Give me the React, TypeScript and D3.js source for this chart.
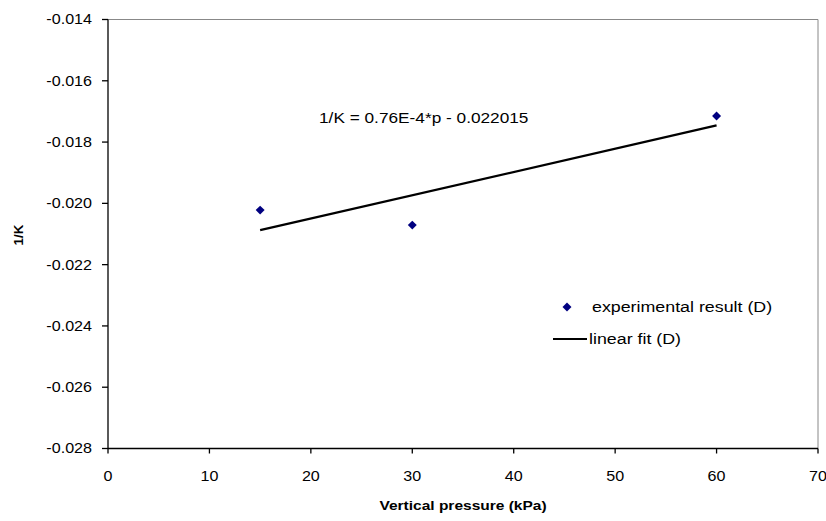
import React from "react";
import * as d3 from "d3";

const pressures = [15, 30, 60];
const invK = [-0.02022, -0.02071, -0.01715];
const fitX = [15, 60];
const slope = 0.76e-4;
const intercept = -0.022015;
const xTicks = [0, 10, 20, 30, 40, 50, 60, 70];
const yTicks = [-0.014, -0.016, -0.018, -0.02, -0.022, -0.024, -0.026, -0.028];
const equationLabel = "1/K = 0.76E-4*p - 0.022015";
const legendLabels = ["experimental result (D)", "linear fit (D)"];

const SX = 1.15;

function T(props: {
  x: number;
  y: number;
  size: number;
  anchor?: string;
  bold?: boolean;
  rotate?: number;
  children: React.ReactNode;
}) {
  const { x, y, size, anchor = "start", bold = false, rotate = 0, children } = props;
  const tr = rotate
    ? `translate(${x},${y}) rotate(${rotate}) scale(1,1)`
    : `translate(${x},${y}) scale(${SX},1)`;
  return (
    <text
      transform={tr}
      dy="0.35em"
      textAnchor={anchor}
      fontSize={size}
      fontWeight={bold ? "bold" : "normal"}
      fill="#000"
    >
      {children}
    </text>
  );
}

export default function App() {
  const W = 826, H = 521;
  const left = 108, right = 818, top = 19.5, bottom = 448.5;
  const x = d3.scaleLinear().domain([0, 70]).range([left, right]);
  const y = d3.scaleLinear().domain([-0.028, -0.014]).range([bottom, top]);
  const font = "Arial, 'Liberation Sans', sans-serif";
  const line = d3.line<number>().x((d) => x(d)).y((d) => y(slope * d + intercept));
  const diamond = d3.symbol().type(d3.symbolSquare).size(40)();
  return (
    <svg width={W} height={H} style={{ position: "absolute", left: 0, top: 0 }} fontFamily={font}>
      <rect width={W} height={H} fill="white" />
      <line x1={left} x2={right} y1={top} y2={top} stroke="#888" strokeWidth={1} />
      <line x1={right} x2={right} y1={top} y2={bottom} stroke="#888" strokeWidth={1} />
      <line x1={left} x2={left} y1={top} y2={bottom} stroke="#000" strokeWidth={1.3} />
      <line x1={left} x2={right} y1={bottom} y2={bottom} stroke="#000" strokeWidth={1.3} />
      {yTicks.map((t) => (
        <g key={t}>
          <line x1={left - 6} x2={left} y1={y(t)} y2={y(t)} stroke="#000" strokeWidth={1.3} />
          <T x={92} y={y(t)} size={14} anchor="end">
            {t.toFixed(3)}
          </T>
        </g>
      ))}
      {xTicks.map((t) => (
        <g key={t}>
          <line x1={x(t)} x2={x(t)} y1={bottom} y2={bottom + 5} stroke="#000" strokeWidth={1.3} />
          <T x={x(t)} y={476} size={14} anchor="middle">
            {t}
          </T>
        </g>
      ))}
      <T x={463} y={505} size={13.5} anchor="middle" bold>
        Vertical pressure (kPa)
      </T>
      <T x={18} y={235} size={13.5} anchor="middle" bold rotate={-90}>
        1/K
      </T>
      <path d={line(fitX) || ""} fill="none" stroke="#000" strokeWidth={2.2} />
      {pressures.map((p, i) => (
        <path
          key={p}
          d={diamond || ""}
          transform={`translate(${x(p)},${y(invK[i])}) rotate(45)`}
          fill="#000080"
        />
      ))}
      <T x={319} y={118} size={15}>
        {equationLabel}
      </T>
      <path d={diamond || ""} transform="translate(567,307) rotate(45)" fill="#000080" />
      <T x={592} y={307} size={15.5}>
        {legendLabels[0]}
      </T>
      <line x1={553} x2={587} y1={339} y2={339} stroke="#000" strokeWidth={2.2} />
      <T x={589} y={339} size={15.5}>
        {legendLabels[1]}
      </T>
    </svg>
  );
}
